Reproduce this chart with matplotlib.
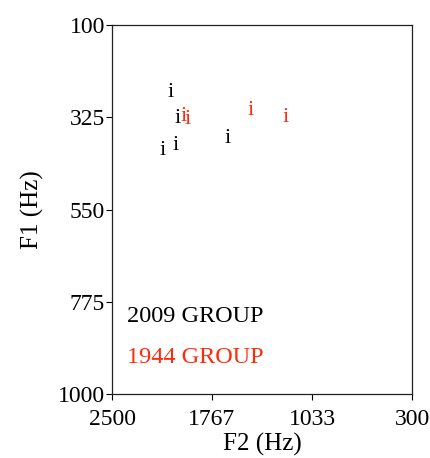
import matplotlib
matplotlib.use("Agg")
import matplotlib.pyplot as plt

plt.rcParams['font.family'] = ['Liberation Serif', 'DejaVu Serif']

# vowel tokens (F2, F1) in Hz
group_2009_f2 = [2070, 2018, 1655, 2128, 2033]
group_2009_f1 = [265, 327, 378, 405, 393]
group_1944_f2 = [1977, 1948, 1481, 1226]
group_1944_f1 = [322, 331, 309, 326]
vowel = 'i'

x_ticks = [2500, 1767, 1033, 300]
y_ticks = [100, 325, 550, 775, 1000]

RED = '#ff2a0a'

fig = plt.figure(figsize=(4.30, 4.58), dpi=100)
ax = fig.add_axes([112 / 430, 1 - 394 / 458, 300 / 430, 369 / 458])

for f2, f1 in zip(group_2009_f2, group_2009_f1):
    ax.text(f2, f1, vowel, color='black', fontsize=16, ha='center', va='center')
for f2, f1 in zip(group_1944_f2, group_1944_f1):
    ax.text(f2, f1, vowel, color=RED, fontsize=16, ha='center', va='center')

ax.set_xlim(2500, 300)
ax.set_ylim(1000, 100)
ax.set_xticks(x_ticks)
ax.set_yticks(y_ticks)
ax.tick_params(direction='out', length=4, width=0.8, labelsize=17)
ax.tick_params(axis='x', pad=7)
ax.tick_params(axis='y', pad=1)
for s in ax.spines.values():
    s.set_linewidth(0.9)
    s.set_color('#222222')

ax.set_xlabel('F2 (Hz)', fontsize=18)
ax.set_ylabel('F1 (Hz)', fontsize=18)
ax.xaxis.set_label_coords(0.5, -(433 - 394) / 369)
ax.yaxis.set_label_coords(-(112 - 44) / 300, 0.5)

ax.text(0.05, 0.209, '2009 GROUP', transform=ax.transAxes, fontsize=17.5,
        color='black', va='center', ha='left')
ax.text(0.05, 0.100, '1944 GROUP', transform=ax.transAxes, fontsize=17.5,
        color=RED, va='center', ha='left')

fig.savefig('out.png', dpi=100)
